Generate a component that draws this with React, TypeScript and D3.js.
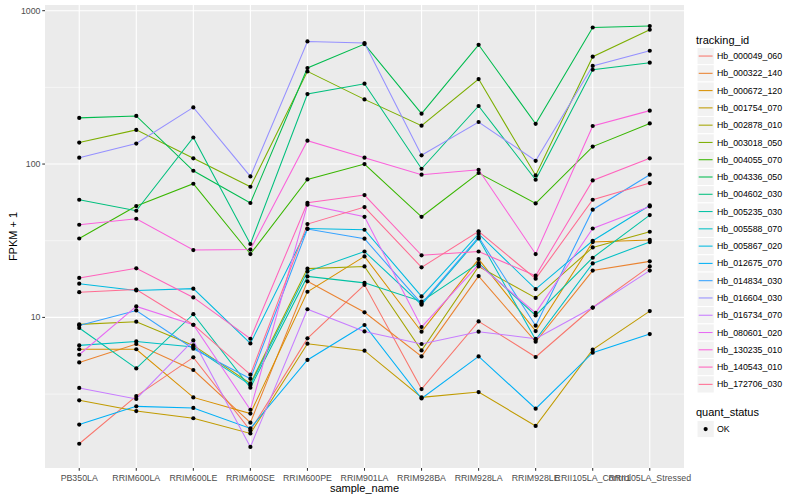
import React from "react";
import * as d3 from "d3";

const categories = [
  "PB350LA", "RRIM600LA", "RRIM600LE", "RRIM600SE", "RRIM600PE", "RRIM901LA",
  "RRIM928BA", "RRIM928LA", "RRIM928LE", "RRII105LA_Control", "RRII105LA_Stressed",
];

const trackingIds = [
  "Hb_000049_060", "Hb_000322_140", "Hb_000672_120", "Hb_001754_070", "Hb_002878_010",
  "Hb_003018_050", "Hb_004055_070", "Hb_004336_050", "Hb_004602_030", "Hb_005235_030",
  "Hb_005588_070", "Hb_005867_020", "Hb_012675_070", "Hb_014834_030", "Hb_016604_030",
  "Hb_016734_070", "Hb_080601_020", "Hb_130235_010", "Hb_140543_010", "Hb_172706_030",
];

const palette = [
  "#F8766D", "#EA8331", "#D89000", "#C09B00", "#A3A500", "#7CAE00", "#39B600", "#00BB4E",
  "#00BF7D", "#00C1A3", "#00BFC4", "#00BAE0", "#00B0F6", "#35A2FF", "#9590FF", "#C77CFF",
  "#E76BF3", "#FA62DB", "#FF62BC", "#FF6C91",
];

const hb_000049_060 = [1.50, 3.07, 5.49, 1.83, 7.30, 16.3, 3.41, 9.42, 5.52, 11.6, 21.5];
const hb_000322_140 = [5.09, 6.71, 4.54, 2.06, 17.2, 10.8, 5.57, 18.6, 6.94, 20.2, 23.2];
const hb_000672_120 = [6.2, 6.2, 3.01, 2.36, 14.7, 25.0, 8.07, 24.0, 8.15, 31.0, 32.0];
const hb_001754_070 = [2.88, 2.45, 2.20, 1.75, 6.74, 6.07, 3.01, 3.26, 1.96, 6.16, 11.0];
const hb_002878_010 = [9.01, 9.38, 6.57, 3.71, 20.8, 21.5, 6.09, 21.5, 13.4, 28.6, 36.2];
const hb_003018_050 = [138, 167, 109, 71.1, 402, 264, 178, 358, 84.3, 501, 751];
const hb_004055_070 = [32.7, 53.2, 74.4, 25.9, 79.4, 100, 45.3, 87.4, 55.4, 130, 184];
const hb_004336_050 = [200, 206, 90.4, 55.7, 423, 606, 213, 599, 183, 777, 794];
const hb_004602_030 = [58.5, 49.6, 149, 30.1, 286, 334, 93.2, 239, 79, 412, 458];
const hb_005235_030 = [8.53, 4.65, 10.5, 3.48, 18.5, 16.8, 12.7, 22.6, 10.3, 24.5, 46.5];
const hb_005588_070 = [6.57, 6.97, 6.41, 3.62, 19.9, 26.9, 12.1, 32.7, 7.15, 22.5, 31.0];
const hb_005867_020 = [16.6, 15.0, 15.4, 6.77, 38.0, 37.3, 13.7, 35.0, 15.3, 31.6, 53.7];
const hb_012675_070 = [2.00, 2.63, 2.57, 1.89, 5.28, 8.92, 2.96, 5.57, 2.54, 5.89, 7.79];
const hb_014834_030 = [8.87, 11.1, 6.25, 3.98, 37.7, 32.6, 12.3, 33.4, 8.83, 50.4, 85.2];
const hb_016604_030 = [110, 136, 234, 83.0, 630, 615, 114, 188, 105, 436, 548];
const hb_016734_070 = [3.47, 2.94, 7.08, 1.43, 11.3, 8.10, 6.71, 8.07, 7.26, 11.6, 20.2];
const hb_080601_020 = [5.71, 11.8, 8.96, 2.50, 54.3, 45.3, 8.66, 22.1, 10.7, 38.0, 52.9];
const hb_130235_010 = [40.2, 44.0, 27.5, 27.7, 142, 110, 85.2, 91.8, 25.9, 177, 223];
const hb_140543_010 = [18.1, 20.9, 13.5, 7.26, 55.9, 62.8, 25.4, 26.9, 18.7, 78.2, 109];
const hb_172706_030 = [14.6, 15.2, 8.96, 4.23, 40.6, 52.4, 21.2, 36.4, 17.9, 58.5, 75.2];

const seriesValues = [
  hb_000049_060, hb_000322_140, hb_000672_120, hb_001754_070, hb_002878_010,
  hb_003018_050, hb_004055_070, hb_004336_050, hb_004602_030, hb_005235_030,
  hb_005588_070, hb_005867_020, hb_012675_070, hb_014834_030, hb_016604_030,
  hb_016734_070, hb_080601_020, hb_130235_010, hb_140543_010, hb_172706_030,
];

const yTickValues = [10, 100, 1000];
const yTickLabels = ["10", "100", "1000"];
const yMinorValues = [Math.sqrt(10), Math.sqrt(1000), Math.sqrt(100000)];

const FONT = "'Liberation Sans', Arial, Helvetica, sans-serif";

export default function App() {
  const W = 800, H = 500;
  const pl = 45, pr = 684, pt = 5, pb = 468;

  const x = d3.scalePoint<string>().domain(categories).range([pl, pr]).padding(0.6);

  const all = seriesValues.flat();
  const lmn = Math.log10(d3.min(all) as number);
  const lmx = Math.log10(d3.max(all) as number);
  const pad = (lmx - lmn) * 0.05;
  const y = d3.scaleLog().domain([Math.pow(10, lmn - pad), Math.pow(10, lmx + pad)]).range([pb, pt]);

  const line = d3
    .line<number>()
    .x((_, i) => x(categories[i]) as number)
    .y((d) => y(d));

  const legX = 697, keySize = 17.28, legY0 = 47.4;

  return (
    <svg
      width={W}
      height={H}
      style={{ position: "fixed", left: 0, top: 0, background: "#fff" }}
      fontFamily={FONT}
    >
      <rect x={0} y={0} width={W} height={H} fill="#ffffff" />
      <rect x={pl} y={pt} width={pr - pl} height={pb - pt} fill="#ebebeb" />
      {yMinorValues.map((v, i) => (
        <line key={"mn" + i} x1={pl} x2={pr} y1={y(v)} y2={y(v)} stroke="#ffffff" strokeWidth={0.55} />
      ))}
      {yTickValues.map((v, i) => (
        <line key={"mj" + i} x1={pl} x2={pr} y1={y(v)} y2={y(v)} stroke="#ffffff" strokeWidth={1.1} />
      ))}
      {categories.map((c) => (
        <line key={"vx" + c} x1={x(c)} x2={x(c)} y1={pt} y2={pb} stroke="#ffffff" strokeWidth={1.1} />
      ))}

      {seriesValues.map((vals, i) => (
        <path key={"l" + i} d={line(vals) as string} fill="none" stroke={palette[i]} strokeWidth={1.05} />
      ))}
      {seriesValues.map((vals, i) =>
        vals.map((v, j) => (
          <circle key={"p" + i + "_" + j} cx={x(categories[j])} cy={y(v)} r={2.1} fill="#000" />
        ))
      )}

      {yTickValues.map((v, i) => (
        <g key={"yt" + i}>
          <line x1={pl - 2.75} x2={pl} y1={y(v)} y2={y(v)} stroke="#333333" strokeWidth={1.05} />
          <text x={pl - 4.5} y={y(v)} dy="0.35em" textAnchor="end" fontSize={8.8} fill="#4d4d4d">
            {yTickLabels[i]}
          </text>
        </g>
      ))}
      {categories.map((c) => (
        <g key={"xt" + c}>
          <line x1={x(c)} x2={x(c)} y1={pb} y2={pb + 2.75} stroke="#333333" strokeWidth={1.05} />
          <text x={x(c)} y={pb + 12.6} textAnchor="middle" fontSize={8.8} fill="#4d4d4d">
            {c}
          </text>
        </g>
      ))}

      <text x={(pl + pr) / 2} y={491.5} textAnchor="middle" fontSize={11} fill="#000">
        sample_name
      </text>
      <text
        transform={`translate(${16.5},${(pt + pb) / 2}) rotate(-90)`}
        textAnchor="middle"
        fontSize={11}
        fill="#000"
      >
        FPKM + 1
      </text>

      <text x={696} y={44} fontSize={11} fill="#000">
        tracking_id
      </text>
      {trackingIds.map((id, i) => {
        const ky = legY0 + i * keySize;
        return (
          <g key={"lg" + id}>
            <rect x={legX} y={ky} width={keySize} height={keySize} fill="#f2f2f2" stroke="#ffffff" strokeWidth={1} />
            <line x1={legX + 1.7} x2={legX + keySize - 1.7} y1={ky + keySize / 2} y2={ky + keySize / 2} stroke={palette[i]} strokeWidth={1.05} />
            <text x={717} y={ky + keySize / 2} dy="0.35em" fontSize={8.8} fill="#000">
              {id}
            </text>
          </g>
        );
      })}

      <text x={696} y={416} fontSize={11} fill="#000">
        quant_status
      </text>
      <rect x={legX} y={420.4} width={keySize} height={keySize} fill="#f2f2f2" stroke="#ffffff" strokeWidth={1} />
      <circle cx={legX + keySize / 2} cy={420.4 + keySize / 2} r={2.1} fill="#000" />
      <text x={717} y={420.4 + keySize / 2} dy="0.35em" fontSize={8.8} fill="#000">
        OK
      </text>
    </svg>
  );
}
